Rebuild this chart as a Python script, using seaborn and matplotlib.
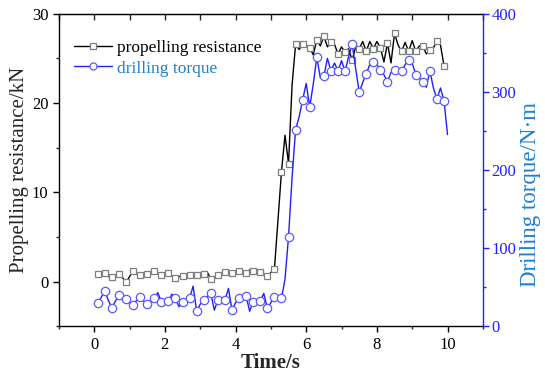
import numpy as np
import pandas as pd
import matplotlib
matplotlib.use("Agg")
import matplotlib.pyplot as plt
from matplotlib.ticker import MultipleLocator
from matplotlib.lines import Line2D
import seaborn as sns

time_s = [round(0.1 * i, 1) for i in range(1, 101)]

propelling_resistance = [
    0.86, 0.80, 0.93, 0.55, 0.48, 0.75, 0.86, 0.45, -0.10, 0.55,
    1.16, 0.80, 0.75, 0.90, 0.86, 0.95, 1.16, 0.85, 0.75, 0.95,
    0.93, 0.60, 0.40, 0.55, 0.63, 0.70, 0.70, 0.65, 0.70, 0.75,
    0.86, 1.05, 0.30, 0.50, 0.75, 0.95, 1.05, 0.80, 0.93, 1.00,
    1.20, 1.05, 0.93, 1.30, 1.16, 0.95, 1.05, 0.85, 0.63, 1.00,
    1.35, 6.80, 12.3, 16.4, 13.2, 22.0, 26.6, 26.0, 26.6, 26.4,
    26.2, 25.4, 27.1, 26.4, 27.5, 26.3, 26.8, 26.6, 25.5, 26.3,
    25.7, 26.1, 24.8, 26.3, 26.1, 26.9, 25.8, 26.9, 26.1, 26.9,
    26.2, 24.6, 26.7, 24.5, 27.8, 26.5, 25.8, 26.8, 25.8, 27.0,
    25.8, 26.4, 26.4, 25.5, 26.0, 26.2, 27.0, 26.5, 24.2, 24.1,
]

drilling_torque = [
    29.0, 37.0, 45.0, 33.0, 23.5, 32.0, 39.7, 37.0, 34.2, 30.0,
    26.9, 33.0, 37.6, 32.0, 27.8, 31.0, 35.5, 43.0, 31.2, 34.0,
    32.0, 41.0, 35.5, 24.8, 31.2, 33.0, 35.5, 51.3, 19.2, 28.0,
    33.3, 38.0, 41.9, 20.5, 33.3, 30.0, 33.3, 48.3, 20.5, 30.0,
    36.3, 37.0, 38.5, 19.0, 31.2, 33.0, 32.0, 41.9, 22.7, 30.0,
    37.0, 34.0, 35.5, 60.0, 114.5, 190.0, 251.7, 268.0, 290.0, 311.0,
    280.8, 310.0, 344.5, 318.0, 320.0, 343.0, 327.0, 337.0, 327.0, 340.0,
    326.5, 345.0, 361.5, 330.0, 299.6, 312.0, 323.5, 335.0, 338.0, 335.0,
    328.6, 322.0, 312.8, 325.0, 328.6, 330.0, 326.5, 335.0, 341.4, 337.0,
    322.2, 318.0, 312.8, 306.0, 327.3, 305.0, 291.0, 305.0, 288.8, 245.3,
]

series_labels = ["propelling resistance", "drilling torque"]
x_ticks = [0, 2, 4, 6, 8, 10]
left_ticks = [0, 10, 20, 30]
right_ticks = [0, 100, 200, 300, 400]

df = pd.DataFrame({"t": time_s, "F": propelling_resistance, "T": drilling_torque})

sns.set_style("ticks")
plt.rcParams["font.family"] = ["Liberation Serif", "DejaVu Serif"]

BLUE = "#2020ff"
LBLUE = "#1f7fd0"

fig = plt.figure(figsize=(5.45, 3.74), dpi=100)
ax = fig.add_axes([0.108, 0.128, 0.778, 0.835])
ax2 = ax.twinx()

sns.lineplot(data=df, x="t", y="F", ax=ax, color="black", lw=1.0,
             marker="s", markersize=5, markevery=2, markerfacecolor="white",
             markeredgecolor="#7f7f7f", markeredgewidth=0.9, errorbar=None,
             label=series_labels[0], legend=False)
sns.lineplot(data=df, x="t", y="T", ax=ax2, color=BLUE, lw=1.0,
             marker="o", markersize=6, markevery=2, markerfacecolor="white",
             markeredgecolor="#5a5aff", markeredgewidth=0.9, errorbar=None,
             label=series_labels[1], legend=False)

ax.set_xlim(-1, 11)
ax.set_ylim(-5, 30)
ax2.set_ylim(0, 400)

ax.set_xticks(x_ticks)
ax.set_yticks(left_ticks)
ax2.set_yticks(right_ticks)
ax.xaxis.set_minor_locator(MultipleLocator(1))
ax.yaxis.set_minor_locator(MultipleLocator(5))
ax2.yaxis.set_minor_locator(MultipleLocator(50))

ax.tick_params(axis="both", which="major", direction="out", length=4, width=1,
               labelsize=12, colors="black")
ax.tick_params(axis="both", which="minor", direction="out", length=2.5, width=1)
ax2.tick_params(axis="y", which="major", direction="out", length=4, width=1,
                labelsize=12, colors=BLUE, pad=2)
ax2.tick_params(axis="y", which="minor", direction="out", length=2.5, width=1, colors=BLUE)

sec = ax.secondary_xaxis("top")
sec.set_xticks(x_ticks)
sec.xaxis.set_minor_locator(MultipleLocator(1))
sec.tick_params(axis="x", which="both", direction="in", length=4, width=1, labeltop=False)

for s in ["left", "bottom", "top"]:
    ax.spines[s].set_color("black")
    ax.spines[s].set_linewidth(1.0)
ax.spines["right"].set_visible(False)
for s in ["left", "bottom", "top"]:
    ax2.spines[s].set_visible(False)
ax2.spines["right"].set_color(BLUE)
ax2.spines["right"].set_linewidth(1.0)

ax.set_xlabel("Time/s", fontsize=15, fontweight="bold", labelpad=0)
ax.set_ylabel("Propelling resistance/kN", fontsize=15, labelpad=2)
ax2.set_ylabel("Drilling torque/N·m", fontsize=16.5, color=LBLUE, labelpad=3)
ax2.yaxis.label.set_y(0.42)

handles = [
    Line2D([], [], color="black", lw=1.0, marker="s", markersize=5,
           markerfacecolor="white", markeredgecolor="#7f7f7f", markeredgewidth=0.9),
    Line2D([], [], color=BLUE, lw=1.0, marker="o", markersize=5,
           markerfacecolor="white", markeredgecolor="#5a5aff", markeredgewidth=0.9),
]
leg = ax2.legend(handles, series_labels, loc="upper left", bbox_to_anchor=(0.01, 0.95),
                 frameon=False, fontsize=12.5, handlelength=2.2, handletextpad=0.3,
                 labelspacing=0.25, borderaxespad=0.2)
leg.get_texts()[0].set_color("black")
leg.get_texts()[1].set_color(LBLUE)

fig.savefig("out.png", dpi=100)
